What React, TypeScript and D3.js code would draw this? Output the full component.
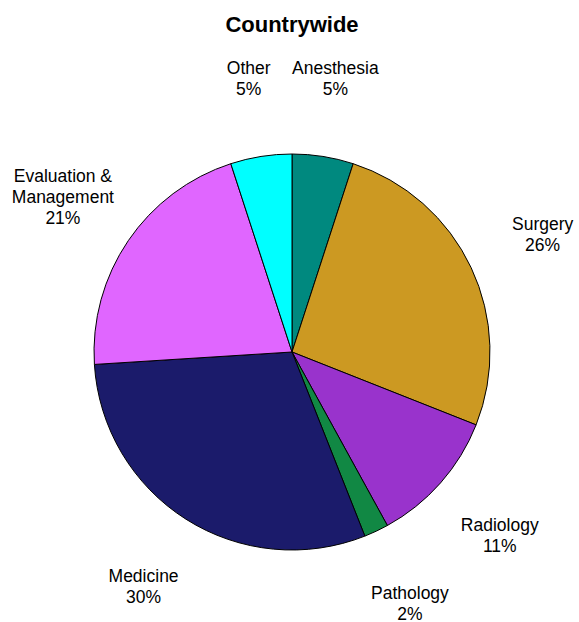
import React from "react";
import * as d3 from "d3";

const categories = ["Anesthesia", "Surgery", "Radiology", "Pathology", "Medicine", "Evaluation &\nManagement", "Other"];
const values = [5, 26, 11, 2, 30, 21, 5];
const colors = ["#00897F", "#CC9922", "#9933CC", "#118844", "#1B1B6B", "#E066FF", "#00FFFF"];
const title = "Countrywide";

const W = 579;
const H = 622;
const cx = 292;
const cy = 352;
const R = 198;
const labelR = 277;
const fontSize = 17.5;
const lineH = 21;
const capH = 13;

export default function App() {
  const total = d3.sum(values);
  const pie = d3.pie<number>().sort(null).value((d) => d)(values);
  const arc = d3.arc<d3.PieArcDatum<number>>().innerRadius(0).outerRadius(R);

  return (
    <svg
      width={W}
      height={H}
      style={{ position: "absolute", left: 0, top: 0, background: "#fff" }}
      fontFamily="Liberation Sans, Arial, sans-serif"
    >
      <text x={cx} y={32} textAnchor="middle" fontSize={22} fontWeight="bold" fill="#000">
        {title}
      </text>
      <g transform={`translate(${cx},${cy})`}>
        {pie.map((p, i) => (
          <path key={i} d={arc(p) || ""} fill={colors[i]} stroke="#000" strokeWidth={1} strokeLinejoin="round" />
        ))}
        {pie.map((p, i) => {
          const mid = (p.startAngle + p.endAngle) / 2;
          const lx = labelR * Math.sin(mid);
          const ly = -labelR * Math.cos(mid);
          const lines = [...categories[i].split("\n"), `${Math.round((values[i] / total) * 100)}%`];
          const blockH = capH + (lines.length - 1) * lineH;
          const firstBase = ly - blockH / 2 + capH;
          return (
            <text key={"l" + i} textAnchor="middle" fontSize={fontSize} fill="#000">
              {lines.map((t, j) => (
                <tspan key={j} x={lx} y={firstBase + j * lineH}>
                  {t}
                </tspan>
              ))}
            </text>
          );
        })}
      </g>
    </svg>
  );
}
